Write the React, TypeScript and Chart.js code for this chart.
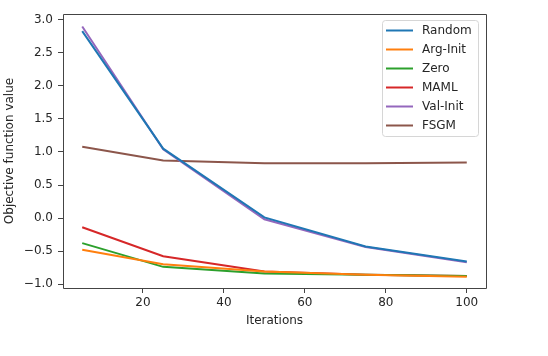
import React, { useEffect, useRef } from 'react';
import { Chart, registerables } from 'chart.js';

Chart.register(...registerables);

const ITERATIONS = [5, 25, 50, 75, 100];
const RANDOM = [2.83, 1.05, 0.01, -0.43, -0.66];
const ARG_INIT = [-0.48, -0.7, -0.81, -0.86, -0.89];
const ZERO = [-0.38, -0.74, -0.84, -0.86, -0.88];
const MAML = [-0.14, -0.58, -0.81, -0.86, -0.88];
const VAL_INIT = [2.9, 1.04, -0.02, -0.44, -0.67];
const FSGM = [1.08, 0.87, 0.83, 0.83, 0.84];

const SERIES_LABELS = ['Random', 'Arg-Init', 'Zero', 'MAML', 'Val-Init', 'FSGM'];
const SERIES_VALUES = [RANDOM, ARG_INIT, ZERO, MAML, VAL_INIT, FSGM];
const SERIES_COLORS = ['#1f77b4', '#ff7f0e', '#2ca02c', '#d62728', '#9467bd', '#8c564b'];

const X_TICKS = [20, 40, 60, 80, 100];
const Y_TICKS = [-1.0, -0.5, 0.0, 0.5, 1.0, 1.5, 2.0, 2.5, 3.0];
const X_TITLE = 'Iterations';
const Y_TITLE = 'Objective function value';

const FONT_FAMILY = '"DejaVu Sans", sans-serif';
const TEXT_COLOR = '#262626';
const AXIS_COLOR = '#444444';

const frameLegendPlugin = {
  id: 'frameLegend',
  afterDatasetsDraw(chart: any) {
    const { ctx, chartArea } = chart;
    const l = Math.round(chartArea.left) + 0.5;
    const t = Math.round(chartArea.top) + 0.5;
    const r = Math.round(chartArea.right) + 0.5;
    const b = Math.round(chartArea.bottom) + 0.5;
    ctx.save();
    ctx.strokeStyle = AXIS_COLOR;
    ctx.lineWidth = 1;
    ctx.beginPath();
    ctx.moveTo(l, t);
    ctx.lineTo(r, t);
    ctx.lineTo(r, b);
    ctx.lineTo(l, b);
    ctx.closePath();
    ctx.stroke();

    // legend
    const bx = 382.5, by = 20.5, bw = 96, bh = 116;
    ctx.beginPath();
    (ctx as any).roundRect(bx, by, bw, bh, 3);
    ctx.fillStyle = 'rgba(255,255,255,0.8)';
    ctx.fill();
    ctx.strokeStyle = '#d6d6d6';
    ctx.stroke();
    ctx.font = `12px ${FONT_FAMILY}`;
    ctx.textBaseline = 'middle';
    ctx.textAlign = 'left';
    chart.data.datasets.forEach((ds: any, i: number) => {
      const y = 30.5 + i * 19;
      ctx.strokeStyle = ds.borderColor;
      ctx.lineWidth = 2;
      ctx.beginPath();
      ctx.moveTo(386, y);
      ctx.lineTo(413, y);
      ctx.stroke();
      ctx.fillStyle = TEXT_COLOR;
      ctx.fillText(ds.label, 422, y + 0.5);
    });
    ctx.restore();
  },
};

export default function App() {
  const ref = useRef<HTMLCanvasElement | null>(null);

  useEffect(() => {
    if (!ref.current) return;
    const font = { family: FONT_FAMILY, size: 12 };
    const chart = new Chart(ref.current, {
      type: 'line',
      data: {
        datasets: SERIES_LABELS.map((label, i) => ({
          label,
          data: ITERATIONS.map((x, j) => ({ x, y: SERIES_VALUES[i][j] })),
          borderColor: SERIES_COLORS[i],
          backgroundColor: SERIES_COLORS[i],
          borderWidth: 2,
          pointRadius: 0,
          tension: 0,
          fill: false,
        })),
      },
      options: {
        animation: false,
        responsive: false,
        maintainAspectRatio: false,
        devicePixelRatio: 1,
        layout: { padding: { left: 0, top: 14, right: 62, bottom: 0 } },
        plugins: {
          legend: { display: false },
          tooltip: { enabled: false },
        },
        scales: {
          x: {
            type: 'linear',
            min: 0.25,
            max: 104.75,
            afterBuildTicks: (s: any) => {
              s.ticks = X_TICKS.map((v) => ({ value: v }));
            },
            afterFit: (s: any) => {
              s.height = 68;
            },
            ticks: {
              font,
              color: TEXT_COLOR,
              padding: 3,
              maxRotation: 0,
              autoSkip: false,
              callback: (v: any) => String(v),
            },
            grid: {
              display: true,
              drawOnChartArea: false,
              drawTicks: true,
              tickLength: 5,
              tickColor: AXIS_COLOR,
              tickWidth: 1,
            },
            border: { display: false },
            title: {
              display: true,
              text: X_TITLE,
              font,
              color: TEXT_COLOR,
              padding: { top: 0, bottom: 28 },
            },
          },
          y: {
            type: 'linear',
            min: -1.06,
            max: 3.09,
            afterBuildTicks: (s: any) => {
              s.ticks = Y_TICKS.map((v) => ({ value: v }));
            },
            afterFit: (s: any) => {
              s.width = 63;
            },
            ticks: {
              font,
              color: TEXT_COLOR,
              padding: 5,
              autoSkip: false,
              callback: (v: any) => Number(v).toFixed(1).replace('-', '\u2212'),
            },
            grid: {
              display: true,
              drawOnChartArea: false,
              drawTicks: true,
              tickLength: 5,
              tickColor: AXIS_COLOR,
              tickWidth: 1,
            },
            border: { display: false },
            title: {
              display: true,
              text: Y_TITLE,
              font,
              color: TEXT_COLOR,
              padding: { top: 3, bottom: 0 },
            },
          },
        },
      } as any,
      plugins: [frameLegendPlugin],
    });
    return () => chart.destroy();
  }, []);

  return (
    <div style={{ position: 'absolute', left: 0, top: 0, width: 548, height: 356, background: '#fff' }}>
      <canvas ref={ref} width={548} height={356} style={{ display: 'block', width: 548, height: 356 }} />
    </div>
  );
}
